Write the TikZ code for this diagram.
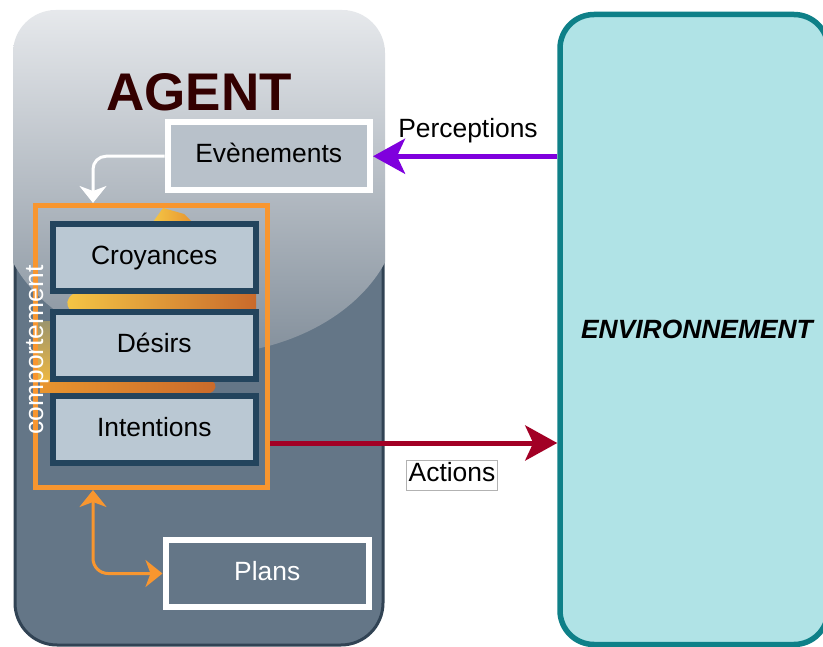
\documentclass[tikz,border=0pt]{standalone}
\usepackage{fontspec}
\setmainfont{Liberation Sans}
\usetikzlibrary{arrows.meta,calc}
\definecolor{slate}{HTML}{647687}
\definecolor{slateborder}{HTML}{314354}
\definecolor{glosstop}{HTML}{E9EBEE}
\definecolor{glossbot}{HTML}{84909C}
\definecolor{boxfill}{HTML}{BAC8D3}
\definecolor{boxline}{HTML}{23445D}
\definecolor{evfill}{HTML}{B8C1CA}
\definecolor{orangeline}{HTML}{F8962F}
\definecolor{envfill}{HTML}{B0E3E6}
\definecolor{envline}{HTML}{0E8088}
\definecolor{percol}{HTML}{7F00DD}
\definecolor{actcol}{HTML}{A20025}
\definecolor{agentred}{HTML}{330000}
\definecolor{imgyellow}{HTML}{F4C545}
\definecolor{imgorange}{HTML}{C96A2B}
\definecolor{imgmid}{HTML}{F7D35A}
\definecolor{imgamber}{HTML}{E8952F}
\tikzset{
  txt/.style={font=\fontsize{26.4}{30}\selectfont, text height=19, text depth=5.5, inner sep=0},
  bdibox/.style={txt, draw=boxline, fill=boxfill, line width=6, minimum width=203.5, minimum height=67},
  whitebox/.style={txt, draw=white, line width=6},
  tipsmall/.tip={Stealth[length=17pt,width=27pt,inset=5pt]},
  tipbig/.tip={Stealth[length=32pt,width=35pt,inset=8pt]},
}
\begin{document}
\begin{tikzpicture}[x=1pt,y=-1pt]
\useasboundingbox (0,0) rectangle (823,647);
\fill[white] (0,0) rectangle (823,647);

% agent container
\node[draw=slateborder, fill=slate, line width=3, rounded corners=42,
      minimum width=368, minimum height=633, inner sep=0] (agent) at (199,328.5) {};
\begin{scope}
  \clip[rounded corners=43] (13,10) rectangle (385,647);
  \shade[top color=glosstop, bottom color=glossbot]
    (399,0) -- (399,208.5) arc[start angle=0, end angle=180, x radius=200, y radius=146.6]
    -- (-1,0) -- cycle;
\end{scope}

% background picture fragments behind the BDI boxes
\shade[left color=imgyellow, right color=imgamber] (153,222) -- (163,208) -- (184,214) -- (192,222) -- cycle;
\shade[left color=imgyellow, middle color=imgmid, right color=imgorange]
  (73,294) .. controls (66,299) and (66,305) .. (70,310) -- (256,310) -- (256,294) -- cycle;
\shade[left color=imgamber, middle color=imgmid!80!white, right color=imgorange]
  (40,381) -- (212,381) .. controls (217,384) and (217,390) .. (210,393) -- (40,393) -- cycle;
\shade[top color=slate!60!imgyellow, bottom color=imgyellow!85!imgorange] (38,322) rectangle (50,381);

% comportement frame
\node[draw=orangeline, line width=5, minimum width=232.5, minimum height=281.5, inner sep=0] (comp) at (151.25,346.25) {};

% BDI boxes
\node[bdibox] (croy) at (154.25,257.5) {Croyances};
\node[bdibox] (des) at (154.25,345.5) {Désirs};
\node[bdibox] (int) at (154.25,429.5) {Intentions};

\node[txt, text=white, rotate=90] (comptxt) at (37,350) {comportement};

% events and plans
\node[whitebox, fill=evfill, minimum width=202.5, minimum height=67.5] (ev) at (268.75,156.25) {Evènements};
\node[whitebox, fill=slate, text=white, minimum width=203.5, minimum height=67] (plans) at (267.25,573.5) {Plans};

\node[font=\fontsize{53}{60}\selectfont\bfseries, text=agentred, inner sep=0] (title) at (199,92.5) {AGENT};

% environment
\node[draw=envline, fill=envfill, line width=5.5, rounded corners=34,
      minimum width=268, minimum height=630, inner sep=0,
      font=\fontsize{26.4}{30}\selectfont\bfseries\itshape] (env) at (694,329.5) {\hspace*{6pt}ENVIRONNEMENT};

% connectors
\coordinate (evin) at (93,203);
\draw[white, line width=3, rounded corners=13, -{tipsmall}] (ev.west) -| (evin);

\coordinate (compbot) at (93,490);
\draw[orangeline, line width=3, rounded corners=15, {tipsmall}-{tipsmall}] (compbot) |- (plans.west);

\draw[percol, line width=5, -{tipbig}] (env.west |- ev.east) -- (ev.east);
\node[txt] (perc) at (468,131) {Perceptions};

\coordinate (actstart) at (270,443);
\draw[actcol, line width=5, -{tipbig}] (actstart) -- (env.west |- actstart);
\node[txt, draw=gray!60, line width=0.6, fill=white, inner xsep=2, minimum height=30] (act) at (452,475) {Actions};
\end{tikzpicture}
\end{document}
